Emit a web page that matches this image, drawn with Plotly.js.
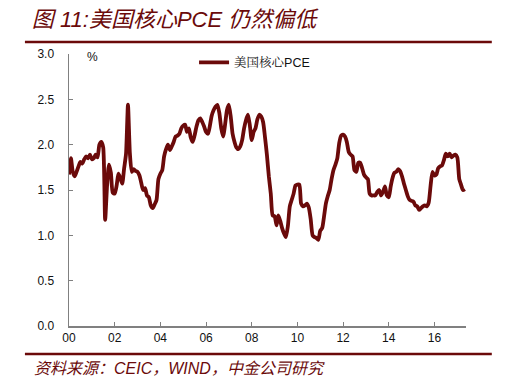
<!DOCTYPE html>
<html>
<head>
<meta charset="utf-8">
<script src="https://cdn.plot.ly/plotly-3.0.1.min.js"></script>
<style>html,body{margin:0;padding:0;background:#fff;}#chart{width:514px;height:391px;}</style>
</head>
<body>
<div id="chart"></div>
<script>
const startMonth = '2000-01';
const corePCE = [
  1.67, 1.85, 1.70, 1.65, 1.70, 1.76, 1.81, 1.79, 1.84, 1.87, 1.85, 1.89,
  1.84, 1.85, 1.89, 1.86, 2.00, 2.03, 1.97, 1.17, 1.55, 1.78, 1.69, 1.47,
  1.46, 1.55, 1.68, 1.63, 1.57, 1.74, 1.90, 2.44, 1.90, 1.70, 1.73, 1.71,
  1.70, 1.66, 1.58, 1.50, 1.52, 1.44, 1.42, 1.33, 1.30, 1.34, 1.39, 1.62,
  1.68, 1.72, 1.87, 1.95, 2.00, 1.94, 1.98, 2.03, 2.09, 2.10, 2.12, 2.18,
  2.21, 2.22, 2.14, 2.18, 2.08, 2.03, 2.10, 2.20, 2.27, 2.29, 2.25, 2.20,
  2.14, 2.12, 2.20, 2.32, 2.38, 2.42, 2.44, 2.35, 2.18, 2.09, 2.22, 2.38,
  2.44, 2.30, 2.12, 2.03, 1.97, 1.95, 1.98, 2.05, 2.18, 2.27, 2.33, 2.22,
  2.05, 2.14, 2.18, 2.28, 2.33, 2.31, 2.25, 2.08, 1.88, 1.65, 1.46, 1.22,
  1.21, 1.11, 1.22, 1.16, 1.08, 1.02, 0.98, 1.10, 1.32, 1.39, 1.46, 1.55,
  1.56, 1.56, 1.35, 1.32, 1.33, 1.35, 1.31, 1.18, 1.00, 0.98, 0.97, 0.95,
  1.05, 1.08, 1.20, 1.35, 1.43, 1.50, 1.62, 1.72, 1.78, 1.85, 2.02, 2.10,
  2.11, 2.09, 2.03, 1.92, 1.89, 1.87, 1.72, 1.70, 1.80, 1.80, 1.74, 1.67,
  1.64, 1.62, 1.46, 1.44, 1.44, 1.44, 1.48, 1.50, 1.44, 1.48, 1.54, 1.44,
  1.42, 1.54, 1.63, 1.69, 1.70, 1.73, 1.71, 1.65, 1.57, 1.50, 1.43, 1.39,
  1.38, 1.37, 1.33, 1.32, 1.28, 1.30, 1.32, 1.33, 1.32, 1.36, 1.55, 1.70,
  1.66, 1.67, 1.74, 1.76, 1.77, 1.83, 1.90, 1.87, 1.90, 1.86, 1.88, 1.89,
  1.86, 1.62, 1.56, 1.50, 1.51
];
const seriesName = '美国核心PCE';
const xTickVals = ['2000-01-01','2002-01-01','2004-01-01','2006-01-01','2008-01-01','2010-01-01','2012-01-01','2014-01-01','2016-01-01'];
const xTickText = ['00','02','04','06','08','10','12','14','16'];
const yTickVals = [0, 0.5, 1.0, 1.5, 2.0, 2.5, 3.0];
const yTickText = ['0.0','0.5','1.0','1.5','2.0','2.5','3.0'];
const titleText = '图 11:美国核心PCE 仍然偏低';
const sourceText = '资料来源：CEIC，WIND，中金公司研究';

const dates = corePCE.map((v, i) => {
  const y = 2000 + Math.floor(i / 12);
  const m = (i % 12) + 1;
  return y + '-' + (m < 10 ? '0' + m : m) + '-01';
});

const maroon = '#6b0a0a';
const axisGray = '#808080';
const baseFont = 'Liberation Sans, Arial, "Noto Sans CJK SC", sans-serif';

const trace = {
  x: dates, y: corePCE, type: 'scatter', mode: 'lines', name: seriesName,
  line: {color: maroon, width: 3.8, shape: 'spline', smoothing: 0.6}
};

const layout = {
  width: 514, height: 391,
  margin: {l: 69, r: 48, t: 54, b: 65},
  paper_bgcolor: '#fff', plot_bgcolor: '#fff',
  font: {family: baseFont, size: 12, color: '#111'},
  showlegend: true,
  legend: {
    x: 0.315, y: 0.968, xanchor: 'left', yanchor: 'middle',
    bgcolor: 'rgba(0,0,0,0)', borderwidth: 0,
    font: {family: 'Liberation Sans, "Noto Serif CJK SC", "Noto Sans CJK SC", sans-serif', size: 12.5, color: '#111'},
    itemwidth: 30
  },
  title: {
    text: titleText,
    x: 0.062, xref: 'container', xanchor: 'left',
    y: 0.950, yref: 'container', yanchor: 'middle',
    font: {family: 'Liberation Sans, "Noto Sans CJK SC", sans-serif', size: 22, color: maroon, style: 'italic'}
  },
  xaxis: {
    type: 'date',
    range: ['2000-01-01', '2017-05-20'],
    tickvals: xTickVals, ticktext: xTickText,
    ticks: 'inside', ticklen: 4, tickcolor: axisGray, tickwidth: 1,
    showline: true, linecolor: axisGray, linewidth: 1.5,
    showgrid: false, zeroline: false,
    tickfont: {size: 12, color: '#111'}
  },
  yaxis: {
    range: [0, 3],
    tickvals: yTickVals, ticktext: yTickText,
    ticks: 'inside', ticklen: 4, tickcolor: axisGray, tickwidth: 1,
    ticklabelstandoff: 11,
    showline: true, linecolor: axisGray, linewidth: 1.5,
    showgrid: false, zeroline: false,
    tickfont: {size: 12, color: '#111'}
  },
  shapes: [
    {type: 'line', xref: 'paper', yref: 'paper', x0: -0.111, x1: 1.065, y0: 1.044, y1: 1.044,
     line: {color: maroon, width: 2.5}},
    {type: 'line', xref: 'paper', yref: 'paper', x0: -0.111, x1: 1.065, y0: -0.103, y1: -0.103,
     line: {color: maroon, width: 2.5}}
  ],
  annotations: [
    {text: '%', xref: 'paper', yref: 'paper', x: 0.058, y: 0.99, xanchor: 'center', yanchor: 'middle',
     showarrow: false, font: {size: 12, color: '#111'}},
    {text: sourceText, xref: 'paper', yref: 'paper', x: -0.094, y: -0.155, xanchor: 'left', yanchor: 'middle',
     showarrow: false, font: {family: 'Liberation Sans, "Noto Sans CJK SC", sans-serif', size: 16, color: maroon, style: 'italic'}}
  ]
};

Plotly.newPlot('chart', [trace], layout, {displayModeBar: false, staticPlot: true});
</script>
</body>
</html>
